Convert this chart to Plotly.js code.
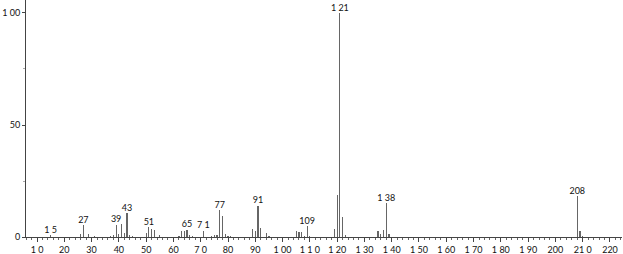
<!DOCTYPE html>
<html>
<head>
<meta charset="utf-8">
<script src="https://cdn.plot.ly/plotly-3.0.1.min.js"></script>
<style>html,body{margin:0;padding:0;background:#fff;}#chart{width:623px;height:254px;}</style>
</head>
<body>
<div id="chart"></div>
<script>
var mz = [15, 26, 27, 29, 31, 37, 38, 39, 40, 41, 42, 43, 44, 45, 50, 51, 52, 53, 55, 62, 63, 64, 65, 66, 67, 71, 74, 75, 76, 77, 78, 79, 80, 81, 89, 90, 91, 92, 94, 95, 105, 106, 107, 108, 109, 110, 119, 120, 121, 122, 123, 135, 136, 137, 138, 139, 208, 209, 210];
var intensity = [1, 1.5, 5.4, 1.5, 0.5, 0.5, 1, 5.5, 1.5, 6, 2, 10.7, 1, 0.5, 2, 4.5, 3.5, 3, 1, 0.5, 2.8, 2.8, 3.3, 1, 0.5, 2.8, 0.5, 0.8, 0.8, 12, 9.4, 1.5, 0.5, 0.5, 3.5, 2.8, 14, 4, 2, 0.5, 2.8, 2.2, 2.2, 0.5, 5, 0.5, 3.4, 18.9, 100, 8.9, 1, 2.5, 1.5, 3, 15, 1.5, 18.3, 2.5, 0.5];
var labelMz = [15, 27, 39, 43, 51, 65, 71, 77, 91, 109, 121, 138, 208];
var labelText = ["1 5", "27", "39", "43", "51", "65", "7 1", "77", "91", "109", "1 21", "1 38", "208"];
var xTickVals = [10,20,30,40,50,60,70,80,90,100,110,120,130,140,150,160,170,180,190,200,210,220];
var xTickText = ["1 0","20","30","40","50","60","7 0","80","90","1 00","1 1 0","1 20","1 30","1 40","1 50","1 60","1 70","1 80","1 90","200","21 0","220"];
var yTickVals = [0, 50, 100];
var yTickText = ["0", "50", "1 00"];

var labelY = labelMz.map(function(m){ return intensity[mz.indexOf(m)]; });

var font = "Lato, 'Open Sans', sans-serif";
var traces = [
  {type:'bar', x: mz, y: intensity, width: 0.45, marker:{color:'#666', line:{width:0}}, hoverinfo:'x+y'},
  {type:'scatter', mode:'text', x: labelMz, y: labelY, text: labelText, textposition:'top center',
   textfont:{family:font, size:9, color:'#111'}, hoverinfo:'skip'}
];
var layout = {
  width:623, height:254, margin:{l:26, r:1, t:0, b:17},
  paper_bgcolor:'#fff', plot_bgcolor:'#fff', showlegend:false, bargap:0,
  font:{family:font, size:9, color:'#111'},
  xaxis:{range:[5.97, 224.4], tickvals:xTickVals, ticktext:xTickText, ticks:'outside', ticklen:4, tickcolor:'#444',
         showline:true, linecolor:'#444', linewidth:1, showgrid:false, zeroline:false, tickfont:{size:9, family:font},
         minor:{dtick:2, tick0:0, ticks:'outside', ticklen:2, tickcolor:'#666', showgrid:false}},
  yaxis:{range:[0, 105.8], tickvals:yTickVals, ticktext:yTickText, ticks:'outside', ticklen:3, tickcolor:'#444',
         showline:true, linecolor:'#444', linewidth:1, showgrid:false, zeroline:false, tickfont:{size:9, family:font},
         minor:{tickvals:[25,75], ticks:'outside', ticklen:2, tickcolor:'#aaa', showgrid:false}}
};
Plotly.newPlot('chart', traces, layout, {displayModeBar:false, staticPlot:true});
</script>
</body>
</html>
